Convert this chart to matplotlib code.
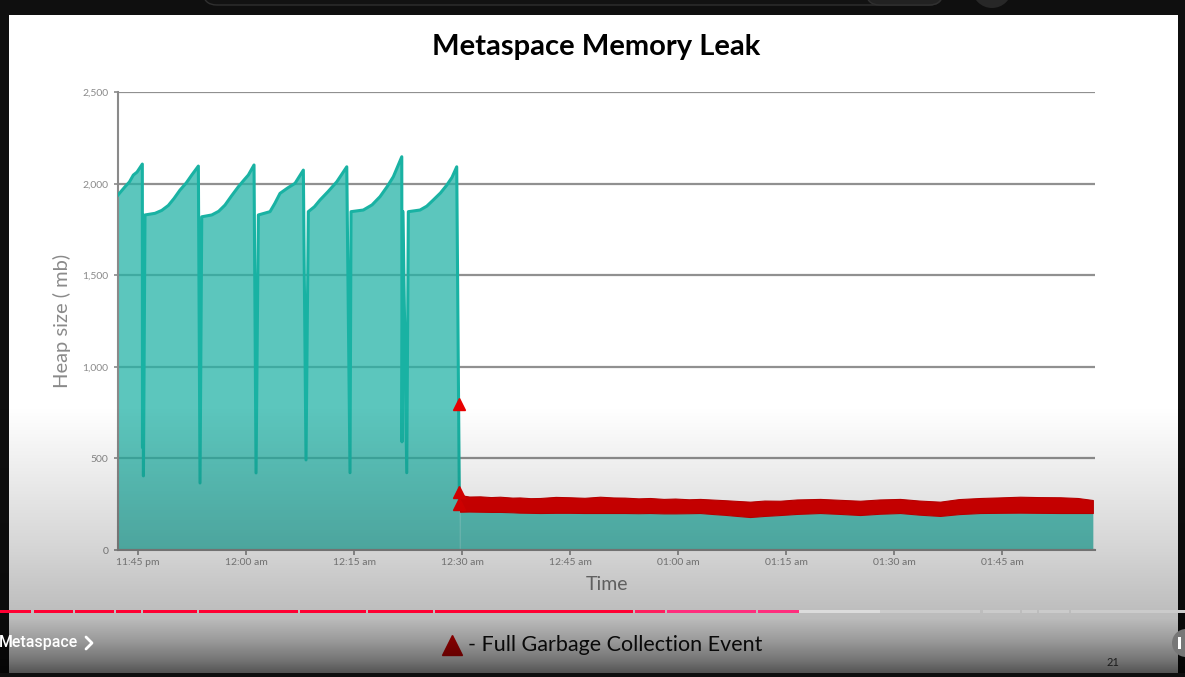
import numpy as np
import matplotlib
matplotlib.use("Agg")
import matplotlib.pyplot as plt
from matplotlib.patches import Rectangle, FancyBboxPatch, Circle

# ---------------- data (minutes after 11:45 pm, heap size in MB) ----------------
heap_t = [-2.78, -1.81, -1.2, -0.65, -0.14, 0.60, 0.62, 0.68, 0.75, 0.97,
          2.36, 3.3, 4.21, 5.0, 5.83, 6.7, 7.46, 8.38, 8.61, 8.85,
          10.24, 11.2, 12.08, 13.0, 13.93, 14.7, 15.32, 16.11, 16.39, 16.71,
          18.33, 19.0, 19.72, 20.8, 21.81, 22.96, 23.33, 23.65,
          24.5, 25.28, 26.4, 27.60, 28.99, 29.44, 29.58,
          31.29, 32.5, 33.61, 34.6, 35.46, 36.63, 36.66, 36.80, 37.32, 37.54,
          39.17, 40.1, 41.01, 42.0, 42.88, 43.6, 44.26, 44.63]
heap_v = [1939, 1984, 2010, 2048, 2064, 2108, 560, 1830, 405, 1830,
          1839, 1855, 1882, 1920, 1966, 2005, 2048, 2097, 366, 1820,
          1830, 1850, 1884, 1935, 1984, 2020, 2048, 2103, 421, 1830,
          1848, 1893, 1948, 1978, 2003, 2075, 492, 1848,
          1875, 1912, 1958, 2011, 2093, 422, 1848,
          1857, 1885, 1930, 1985, 2039, 2148, 591, 1848, 422, 1848,
          1857, 1878, 1912, 1950, 1993, 2035, 2093, 250]

band_t = [44.72, 46.0, 47.5, 49.0, 50.28, 52.0, 53.0, 54.5, 55.83, 58.0, 60.0,
          62.0, 64.17, 66.0, 67.6, 69.5, 71.11, 73.0, 74.6, 76.5, 78.06,
          80.0, 81.5, 83.2, 85.0, 87.0, 89.17, 91.5, 94.72, 97.5, 100.28,
          103.0, 105.83, 108.5, 111.39, 114.0, 116.94, 119.5, 122.5, 125.0,
          128.06, 130.5, 132.6]
band_top = [300, 292, 293, 289, 291, 286, 287, 283, 284, 290, 288,
            285, 291, 287, 286, 282, 284, 279, 281, 277, 279,
            275, 272, 268, 264, 270, 269, 276, 279, 274, 269,
            276, 279, 270, 264, 278, 284, 287, 291, 289, 288, 284, 273]
band_bot = [209, 210, 209, 208, 208, 206, 204, 203, 202, 203, 203,
            202, 202, 202, 202, 201, 202, 200, 200, 201, 202,
            196, 192, 186, 180, 186, 191, 197, 202, 197, 191,
            198, 202, 193, 186, 196, 202, 203, 204, 203, 202, 202, 202]

gc_t = [44.63, 44.63, 44.63]
gc_v = [795, 318, 250]

tick_t = [0, 15, 30, 45, 60, 75, 90, 105, 120]
tick_labels = ["11:45 pm", "12:00 am", "12:15 am", "12:30 am", "12:45 am",
               "01:00 am", "01:15 am", "01:30 am", "01:45 am"]
y_ticks = [0, 500, 1000, 1500, 2000, 2500]
y_labels = ["0", "500", "1,000", "1,500", "2,000", "2,500"]

# ---------------- figure ----------------
W, H = 1185, 677
fig = plt.figure(figsize=(W / 100, H / 100), dpi=100, facecolor="#0f0f0f")

# background (slide) axes in pixel coordinates
bg = fig.add_axes([0, 0, 1, 1], zorder=-1)
bg.set_xlim(0, W)
bg.set_ylim(H, 0)
bg.axis("off")
bg.add_patch(Rectangle((9, 15), 1169, 658, facecolor="white", edgecolor="none"))
bg.text(596, 47, "Metaspace Memory Leak", fontsize=21, fontweight="bold",
        family="Lato", ha="center", va="center", color="black")
bg.plot([452], [645], marker="^", markersize=15, color="#d40000", linestyle="none")
bg.text(468, 645, "- Full Garbage Collection Event", fontsize=15.5, family="Lato",
        ha="left", va="center", color="#111111")
bg.text(1113, 663, "21", fontsize=8, family="Lato", ha="center", va="center",
        color="#444444")
bg.text(62, 321, "Heap size ( mb)", rotation=90, fontsize=14.5, family="Lato",
        ha="center", va="center", color="#8a8a8a")
bg.text(607, 585, "Time", fontsize=14, family="Lato", ha="center", va="center",
        color="#7a7a7a")

# chart axes
x0, x1, ytop, ybot = 118, 1095, 92.3, 550
ax = fig.add_axes([x0 / W, 1 - ybot / H, (x1 - x0) / W, (ybot - ytop) / H], zorder=1)
ax.set_facecolor("none")
ax.set_xlim(-2.78, 132.9)
ax.set_ylim(0, 2500)

teal_fill = "#26b4a7"
teal_line = "#19b2a3"
ax.fill_between(heap_t, 0, heap_v, color=teal_fill, alpha=0.75, linewidth=0, zorder=2)
ax.fill_between(band_t, 0, band_bot, color=teal_fill, alpha=0.75, linewidth=0, zorder=2)
ax.fill_between([heap_t[-1], band_t[0]], 0, [heap_v[-1], band_bot[0]],
                color=teal_fill, alpha=0.75, linewidth=0, zorder=2)
ax.plot(heap_t, heap_v, color=teal_line, lw=2.2, solid_joinstyle="round", zorder=3)
ax.fill_between(band_t, band_bot, band_top, color="#dd0000", linewidth=0.8,
                edgecolor="#cc0000", zorder=4)
ax.plot(gc_t, gc_v, linestyle="none", marker="^", markersize=9, color="#e80000",
        zorder=5)

ax.set_yticks(y_ticks)
ax.set_yticklabels(y_labels)
ax.set_xticks(tick_t)
ax.set_xticklabels(tick_labels)
ax.set_axisbelow(True)
ax.yaxis.grid(True, color="#909090", lw=1.6)
ax.xaxis.grid(False)
for s in ["top", "right"]:
    ax.spines[s].set_visible(False)
for s in ["left", "bottom"]:
    ax.spines[s].set_color("#8a8a8a")
    ax.spines[s].set_linewidth(1.5)
ax.tick_params(axis="y", length=3, width=1.2, color="#8a8a8a", pad=4,
               labelsize=7.5, labelcolor="#8a8a8a")
ax.tick_params(axis="x", length=3.5, width=1.2, color="#8a8a8a", pad=2,
               labelsize=7.5, labelcolor="#8a8a8a")
for lab in ax.get_xticklabels() + ax.get_yticklabels():
    lab.set_family("Lato")

# overlay axes: video player shading and controls
ov = fig.add_axes([0, 0, 1, 1], zorder=10)
ov.set_facecolor("none")
ys = [0, 405, 450, 500, 550, 590, 618, 640, 660, 673, 677]
al = [0, 0, 0.05, 0.11, 0.17, 0.23, 0.27, 0.40, 0.55, 0.68, 0.7]
alpha_col = np.interp(np.arange(H), ys, al)
grad = np.zeros((H, 1, 4))
grad[:, 0, 3] = alpha_col
ov.imshow(grad, extent=(0, W, H, 0), origin="upper", aspect="auto",
          interpolation="bilinear")
ov.set_xlim(0, W)
ov.set_ylim(H, 0)
ov.axis("off")

# bottom black strip
ov.add_patch(Rectangle((0, 673), W, 4, facecolor="#0f0f0f", edgecolor="none"))

# top bar decorations
ov.add_patch(FancyBboxPatch((203, -30), 740, 35, boxstyle="round,pad=0,rounding_size=14",
                            facecolor="#121212", edgecolor="#303030", lw=1))
ov.add_patch(FancyBboxPatch((866, -30), 77, 35, boxstyle="round,pad=0,rounding_size=14",
                            facecolor="#222222", edgecolor="#303030", lw=1))
ov.add_patch(Circle((992, -12), 20, facecolor="#272727", edgecolor="none"))

# progress bar
by, bh = 609.5, 3.5
played_gaps = [0, 32, 73, 114, 141, 197, 298, 366, 433, 633, 665, 756, 799]
for i in range(len(played_gaps) - 1):
    a, b = played_gaps[i], played_gaps[i + 1]
    col = "#ff0033" if b <= 633 else ("#ff1f5e" if b <= 665 else "#ff2d7d")
    ov.add_patch(Rectangle((a + (1.5 if i else 0), by), b - a - 1.5, bh,
                           facecolor=col, edgecolor="none"))
ov.add_patch(Rectangle((799, by), 81, bh, facecolor="#dcdcdc", edgecolor="none"))
rest_gaps = [880, 981, 1020, 1037, 1069, W]
for i in range(len(rest_gaps) - 1):
    a, b = rest_gaps[i], rest_gaps[i + 1]
    ov.add_patch(Rectangle((a + (1.5 if i else 0), by), b - a - 1.5, bh,
                           facecolor="#cbcbcb", edgecolor="none"))

ov.text(-1, 643, "Metaspace", fontsize=11.5, family="Roboto", color="white",
        ha="left", va="center", fontweight="medium")
ov.plot([86, 92, 86], [637, 643, 649], color="white", lw=2, solid_capstyle="round")
ov.add_patch(Circle((1186, 643), 14, facecolor="#777777", edgecolor="none"))
ov.add_patch(Rectangle((1178, 637), 3, 12, facecolor="white", edgecolor="none"))

fig.savefig("out.png", dpi=100, facecolor=fig.get_facecolor())
